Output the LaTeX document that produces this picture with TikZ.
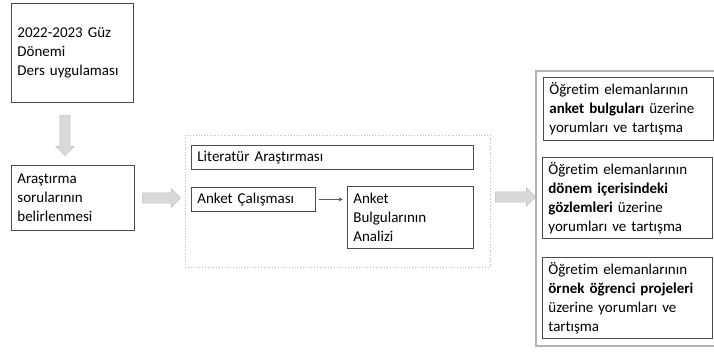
\documentclass[tikz,border=0pt]{standalone}
\usepackage{fontspec}
\setmainfont{Carlito}[Ligatures=NoCommon]
\usetikzlibrary{shapes.arrows,arrows.meta}

\begin{document}
\begin{tikzpicture}[x=1pt,y=-1pt,
	box/.style={draw=black!70, line width=0.8pt, align=left, anchor=north west, inner xsep=6pt, inner ysep=0pt, font=\fontsize{15}{19}\selectfont},
	blk/.style={single arrow, draw=gray!55, fill=gray!30, inner sep=5pt, single arrow head extend=4pt, single arrow head indent=0pt}]
\useasboundingbox (0,0) rectangle (714,356);
% left column
\node[box, text width=110pt, minimum height=99pt] (ders) at (11,3) {2022-2023 Güz\\Dönemi\\Ders uygulaması};
\node[box, text width=111pt, minimum height=65pt] (arastirma) at (11,165) {Araştırma\\sorularının\\belirlenmesi};
\node[blk, minimum height=40pt, shape border rotate=270] (ok1) at (65,133) {};
% middle
\node[draw=gray!50, dotted, line width=0.8pt, anchor=north west, minimum width=305pt, minimum height=132pt] (calisma) at (185,135) {};
\node[box, text width=270pt, minimum height=24pt] (literatur) at (191,145) {Literatür Araştırması};
\node[box, text width=112pt, minimum height=24pt] (anket) at (191,187) {Anket Çalışması};
\node[box, text width=114pt, minimum height=62pt] (analiz) at (347,186) {Anket\\Bulgularının\\Analizi};
\draw[-{Latex[length=4pt,width=4pt]}, gray!70!black, line width=0.6pt, shorten <=3pt, shorten >=4pt] (anket.east) -- (anket.east -| analiz.west);
\node[blk, minimum height=38pt] (ok2) at (159,198) {};
\node[blk, minimum height=40pt] (ok3) at (513,197) {};
% right
\node[draw=gray!60, line width=2pt, anchor=north west, minimum width=183pt, minimum height=275pt] (yorum) at (535,70) {};
\node[box, text width=158pt, minimum height=63pt] (bulgu) at (543,77) {Öğretim elemanlarının\\\textbf{anket bulguları} üzerine\\yorumları ve tartışma};
\node[box, text width=158pt, minimum height=81pt] (gozlem) at (542,157) {Öğretim elemanlarının\\\textbf{dönem içerisindeki}\\\textbf{gözlemleri} üzerine\\yorumları ve tartışma};
\node[box, text width=158pt, minimum height=81pt] (proje) at (542,257) {Öğretim elemanlarının\\\textbf{örnek öğrenci projeleri}\\üzerine yorumları ve\\tartışma};
\end{tikzpicture}
\end{document}
